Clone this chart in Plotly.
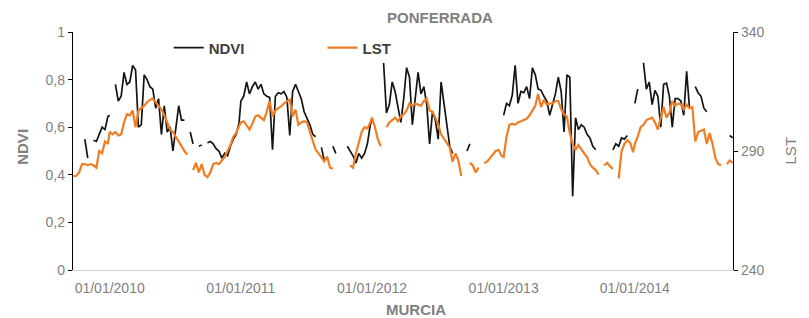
import plotly.graph_objects as go
from datetime import date, timedelta

# ---- data (MODIS 8-day composites) ----
YEARS = [2009, 2010, 2011, 2012, 2013, 2014]
FIRST_DOY = {2009: 265, 2010: 1, 2011: 1, 2012: 1, 2013: 1, 2014: 1}
LAST_DOY = {2009: 361, 2010: 361, 2011: 361, 2012: 361, 2013: 361, 2014: 273}

NDVI_2009 = [None, None, None, None, 0.55, 0.47, None, 0.545, 0.54, 0.57, 0.60, 0.59, 0.645]
LST_2009 = [279.5, 279.5, 281, 284.5, 284.5, 284, 284.5, 284, 283, 290, 289, 294, 293]

NDVI_2010 = [0.65, None, 0.78, 0.71, 0.73, 0.83, 0.78, 0.79, 0.86, 0.84, 0.60, 0.61, 0.82, 0.80,
             0.77, 0.76, 0.68, 0.72, 0.57, 0.69, 0.58, 0.60, 0.50, 0.60, 0.69, 0.63, 0.63, None,
             0.58, 0.53, None, 0.52, 0.525, None, 0.535, 0.54, 0.53, 0.51, 0.50, 0.47, 0.49, 0.48,
             0.52, 0.55, 0.57, 0.62]
LST_2010 = [298, 297, 298, 296.5, 297, 302, 305.5, 305, 307, 300, 307, 308, 309, 310.5, 311.5,
            312, 310.5, 309, 307.5, 305, 302, 299, 298, 296, 294, 291.5, 290, 288.5, None, 282,
            285, 281, 284.5, 280, 279, 281, 284.5, 285, 284.5, 286, 287.5, 290, 292.5, 296,
            297.5, 300.5]

NDVI_2011 = [0.71, 0.73, 0.79, 0.74, 0.77, 0.79, 0.76, 0.78, 0.74, 0.73, 0.725, 0.505, 0.73,
             0.745, 0.74, 0.75, 0.725, 0.565, 0.75, 0.78, 0.75, 0.72, 0.665, 0.64, 0.61, 0.57,
             0.56, None, 0.515, 0.46, None, None, 0.52, 0.49, None, None, None, 0.52, 0.50, 0.48,
             0.45, 0.49, 0.47, 0.49, 0.53, 0.61]
LST_2011 = [302, 302.5, 300.5, 299, 301.5, 304.5, 305, 304, 303, 306.5, 311, 304.5, 307, 308,
            308.7, 310, 311, 311.6, 304.5, 307.4, 301, 302, 302.5, 302, 298, 294, 290.5, 289, 287,
            285.6, 287.7, 283, 282.5, None, None, None, None, None, 284, 283, 289, 294, 298, 300,
            299.5, 302]

NDVI_2012 = [0.63, None, None, None, 0.87, 0.66, 0.695, 0.79, 0.75, 0.69, 0.62, 0.72, 0.85, 0.81,
             0.61, 0.72, 0.83, 0.74, 0.77, 0.695, 0.53, 0.665, 0.63, 0.55, 0.79, 0.70, 0.60, 0.52,
             0.49, None, None, None, None, 0.50, 0.53, None, None, None, None, None, None, None,
             None, None, None, None]
LST_2012 = [304, 300, 295, 292, None, 300, 302, 303, 304, 302.5, 304.5, 305.5, 307, 310, 309, 310,
            309.5, 309, 311, 312, 307, 306.5, 304, 301, 297, 295, 293.5, 291.5, 285.5, 289, 286,
            279.5, None, None, 285, 284, 281, 283, None, 285, 285.5, 287, 288.5, 290, 290.5, 288]

NDVI_2013 = [0.65, 0.70, 0.69, 0.735, 0.86, 0.70, 0.75, 0.745, 0.77, 0.72, 0.85, 0.82, 0.76,
             0.755, 0.73, 0.71, 0.65, 0.69, 0.74, 0.81, 0.75, 0.58, 0.82, 0.81, 0.31, 0.64, 0.59,
             0.61, 0.60, 0.57, 0.555, 0.52, 0.505, None, None, None, None, None, 0.505, 0.53,
             0.52, 0.555, 0.55, 0.565, None, None]
LST_2013 = [287.5, 296, 301, 301.5, 301, 302, 302.5, 303, 303.5, 305, 307, 309, 314, 308.5, 311.5,
            309.5, 310, 310, 311, 311, 307.5, 305.3, 304.5, 297.5, 293, 290.5, 292.5, 290.5, 289,
            287.5, 284.5, 283, 282, 280, None, 284, 285, 283.5, 282.5, None, 278.5, 290, 293,
            294.5, 293.5, 289.5]

NDVI_2014 = [0.70, 0.76, None, 0.87, 0.76, 0.79, 0.695, 0.755, 0.73, 0.60, 0.78, 0.785, 0.73,
             0.60, 0.72, 0.72, 0.71, 0.65, 0.835, 0.68, None, 0.77, 0.745, 0.73, 0.68, 0.665,
             None, None, None, None, None, None, None, 0.565, 0.555]
LST_2014 = [293, 296, 300, 301, 303, 303.5, 304, 302, 299, 304, 308.5, 304, 306, 311, 309, 310,
            309.5, 307.5, 309.5, 308, 308.5, 294, 298, 298.5, 299, 293, 297.5, 293, 287, 284.5,
            284, None, 284.5, 286, 285]

NDVI_BY_YEAR = [NDVI_2009, NDVI_2010, NDVI_2011, NDVI_2012, NDVI_2013, NDVI_2014]
LST_BY_YEAR = [LST_2009, LST_2010, LST_2011, LST_2012, LST_2013, LST_2014]

X_TICK_DATES = ["2010-01-01", "2011-01-01", "2012-01-01", "2013-01-01", "2014-01-01"]
X_TICK_TEXT = ["01/01/2010", "01/01/2011", "01/01/2012", "01/01/2013", "01/01/2014"]
Y1_TICKS = [0, 0.2, 0.4, 0.6, 0.8, 1]
Y1_TEXT = ["0", "0,2", "0,4", "0,6", "0,8", "1"]
Y2_TICKS = [240, 290, 340]

# ---- build series ----
dates, ndvi, lst = [], [], []
for yr, nv, lv in zip(YEARS, NDVI_BY_YEAR, LST_BY_YEAR):
    ds = [date(yr, 1, 1) + timedelta(days=d - 1) for d in range(FIRST_DOY[yr], LAST_DOY[yr] + 1, 8)]
    assert len(ds) == len(nv) == len(lv), (yr, len(ds), len(nv), len(lv))
    dates += ds
    ndvi += nv
    lst += lv

FONT = "Liberation Sans, Arial, sans-serif"
GRAY = "#7f7f7f"

fig = go.Figure()
fig.add_trace(go.Scatter(x=dates, y=lst, name="LST", mode="lines", yaxis="y2",
                         line=dict(color="#F07D23", width=2.2), legend="legend2",
                         showlegend=True))
fig.add_trace(go.Scatter(x=dates, y=ndvi, name="NDVI", mode="lines", yaxis="y",
                         line=dict(color="#141414", width=1.7), legend="legend",
                         showlegend=True))

legend_font = dict(family=FONT, size=15, color="#404040", weight="bold")
fig.update_layout(
    width=801, height=310,
    margin=dict(l=65, r=76, t=24, b=48),
    showlegend=True,
    paper_bgcolor="white", plot_bgcolor="white",
    font=dict(family=FONT, size=14, color=GRAY),
    legend=dict(x=0.145, y=0.933, xanchor="left", yanchor="middle", orientation="h",
                font=legend_font, bgcolor="rgba(0,0,0,0)", itemwidth=30, visible=True),
    legend2=dict(x=0.378, y=0.933, xanchor="left", yanchor="middle", orientation="h",
                 font=legend_font, bgcolor="rgba(0,0,0,0)", itemwidth=30, visible=True),
    xaxis=dict(type="date", range=["2009-09-21", "2014-10-01"],
               tickvals=X_TICK_DATES, ticktext=X_TICK_TEXT,
               showline=True, linecolor="#d0d0d0", linewidth=1,
               ticks="", showgrid=False, zeroline=False, ticklabelstandoff=5,
               tickfont=dict(family=FONT, size=14, color=GRAY)),
    yaxis=dict(range=[0, 1], tickvals=Y1_TICKS, ticktext=Y1_TEXT,
               showline=True, linecolor="black", linewidth=1.3,
               ticks="outside", ticklen=4, tickcolor="black", tickwidth=1,
               showgrid=False, zeroline=False,
               tickfont=dict(family=FONT, size=14, color=GRAY)),
    yaxis2=dict(range=[240, 340], tickvals=Y2_TICKS, overlaying="y", side="right",
                showline=True, linecolor="black", linewidth=1.3,
                ticks="outside", ticklen=4, tickcolor="black", tickwidth=1,
                showgrid=False, zeroline=False,
                tickfont=dict(family=FONT, size=14, color=GRAY)),
    annotations=[
        dict(text="<b>PONFERRADA</b>", xref="paper", yref="paper", x=0.556, y=1.059,
             xanchor="center", yanchor="middle", showarrow=False,
             font=dict(family=FONT, size=15, color=GRAY)),
        dict(text="<b>MURCIA</b>", xref="paper", yref="paper", x=0.52, y=-0.168,
             xanchor="center", yanchor="middle", showarrow=False,
             font=dict(family=FONT, size=15, color=GRAY)),
        dict(text="<b>NDVI</b>", xref="paper", yref="paper", x=-0.076, y=0.517,
             xanchor="center", yanchor="middle", showarrow=False, textangle=-90,
             font=dict(family=FONT, size=15, color=GRAY)),
        dict(text="LST", xref="paper", yref="paper", x=1.087, y=0.504,
             xanchor="center", yanchor="middle", showarrow=False, textangle=-90,
             font=dict(family=FONT, size=15, color=GRAY)),
    ],
)

fig.write_html("out.html")
